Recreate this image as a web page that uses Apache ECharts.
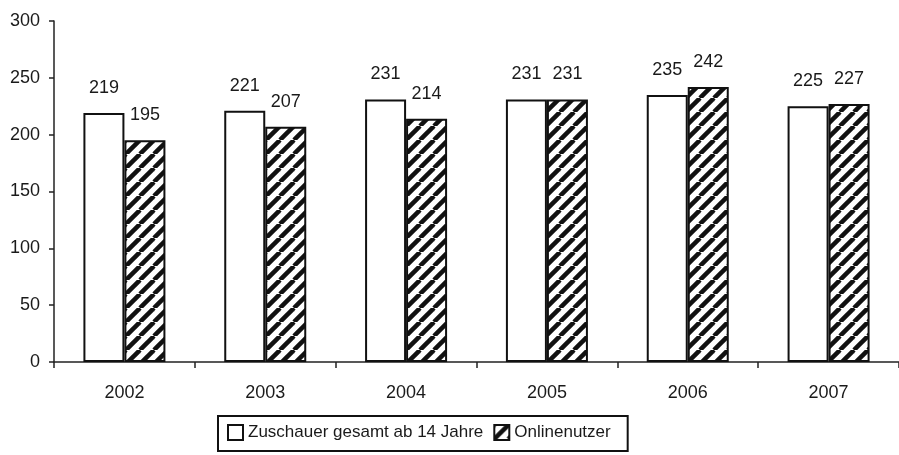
<!DOCTYPE html>
<html>
<head>
    <meta charset="utf-8">
    <script type="text/javascript" src="https://cdn.jsdelivr.net/npm/echarts@6/dist/echarts.min.js"></script>
    <style type="text/css">
        *{
            margin: 0;
            padding: 0;
        }
        #main{
            width: 899px;
            height: 455px;
            background: #fff;
        }
    </style>
</head>
<body>
<div id="main"></div>
<script type="text/javascript">
    var years = ['2002', '2003', '2004', '2005', '2006', '2007'];
    var zuschauer = [219, 221, 231, 231, 235, 225];
    var online = [195, 207, 214, 231, 242, 227];
    var seriesNames = ['Zuschauer gesamt ab 14 Jahre', 'Onlinenutzer'];

    var font = "'Liberation Sans', Arial, sans-serif";

    // Schraffur fuer die Onlinenutzer-Balken
    var tile = document.createElement('canvas');
    tile.width = 14;
    tile.height = 14;
    var ctx = tile.getContext('2d');
    ctx.fillStyle = '#fff';
    ctx.fillRect(0, 0, 14, 14);
    ctx.strokeStyle = '#111';
    ctx.lineWidth = 4.5;
    for (var k = -1; k <= 1; k++) {
        ctx.beginPath();
        ctx.moveTo(k * 14, 14);
        ctx.lineTo(k * 14 + 14, 0);
        ctx.stroke();
    }

    var myChart = echarts.init(document.getElementById('main'));
    var option = {
        backgroundColor: '#fff',
        animation: false,
        textStyle: {fontFamily: font},
        grid: {
            left: 54,
            top: 21,
            width: 852,
            height: 341,
            containLabel: false
        },
        legend: {
            data: seriesNames,
            left: 218,
            top: 416,
            padding: [8, 17, 10, 9],
            itemGap: 10,
            itemWidth: 15,
            itemHeight: 15,
            icon: 'rect',
            borderColor: '#111',
            borderWidth: 2,
            textStyle: {
                fontSize: 17,
                fontFamily: font,
                color: '#1a1a1a'
            }
        },
        xAxis: {
            type: 'category',
            data: years,
            boundaryGap: true,
            axisLine: {show: true, lineStyle: {color: '#222', width: 1.5}},
            axisTick: {show: true, inside: false, length: 6, lineStyle: {color: '#222', width: 1.5}},
            axisLabel: {
                margin: 22,
                fontSize: 18,
                fontFamily: font,
                color: '#1a1a1a'
            },
            splitLine: {show: false}
        },
        yAxis: {
            type: 'value',
            min: 0,
            max: 300,
            interval: 50,
            axisLine: {show: true, lineStyle: {color: '#222', width: 1.5}},
            axisTick: {show: true, inside: false, length: 5, lineStyle: {color: '#222', width: 1.5}},
            axisLabel: {
                margin: 14,
                fontSize: 18,
                fontFamily: font,
                color: '#1a1a1a'
            },
            splitLine: {show: false}
        },
        series: [
            {
                name: seriesNames[0],
                type: 'bar',
                data: zuschauer,
                barWidth: 41,
                barGap: '0%',
                itemStyle: {color: '#fff', borderColor: '#111', borderWidth: 2},
                label: {
                    show: true,
                    position: 'top',
                    distance: 16,
                    fontSize: 18,
                    fontFamily: font,
                    color: '#1a1a1a'
                }
            },
            {
                name: seriesNames[1],
                type: 'bar',
                data: online,
                barWidth: 41,
                barGap: '0%',
                itemStyle: {
                    color: {image: tile, repeat: 'repeat'},
                    borderColor: '#111',
                    borderWidth: 2
                },
                label: {
                    show: true,
                    position: 'top',
                    distance: 16,
                    fontSize: 18,
                    fontFamily: font,
                    color: '#1a1a1a'
                }
            }
        ]
    };
    myChart.setOption(option);
</script>
</body>
</html>
